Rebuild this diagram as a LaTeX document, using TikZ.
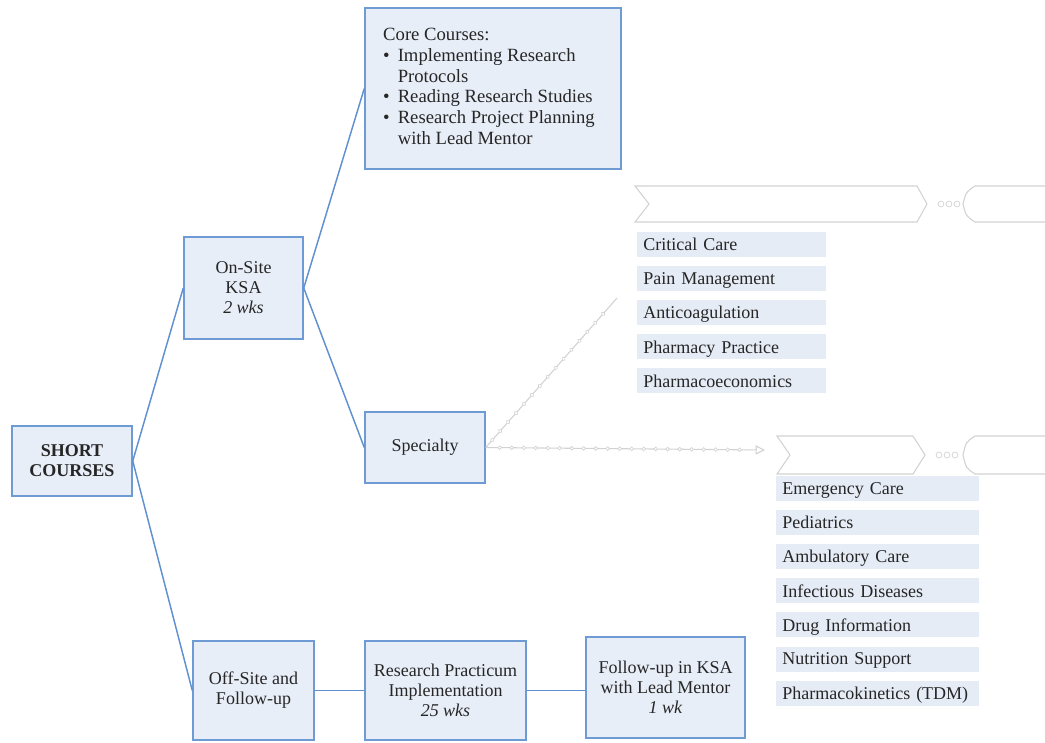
\documentclass[tikz,border=0pt]{standalone}
\usepackage{fontspec}
\setmainfont{Liberation Serif}
\usetikzlibrary{arrows.meta,decorations.markings}
\definecolor{boxfill}{HTML}{E8EEF8}
\definecolor{boxline}{HTML}{6E9BD3}
\definecolor{linkline}{HTML}{6090D0}
\definecolor{listfill}{HTML}{E6ECF6}
\definecolor{ghost}{HTML}{D2D2D2}
\definecolor{txt}{HTML}{262626}
\begin{document}
\begin{tikzpicture}[x=0.75pt,y=-0.75pt,
  box/.style={draw=boxline, line width=1.1pt, fill=boxfill, align=center, inner sep=0pt,
    text=txt, font=\fontsize{13.5}{15}\selectfont},
  listitem/.style={fill=listfill, inner xsep=4.5pt, inner ysep=0pt, anchor=west, align=left,
    text=txt, font=\fontsize{13.5}{15}\selectfont, minimum height=18.75pt, text depth=0pt},
  link/.style={draw=linkline, line width=1.1pt},
  ghostline/.style={draw=ghost, line width=0.8pt},
  ghostdots/.style={ghostline, postaction={decorate}, decoration={markings,
    mark=between positions 0.05 and 0.95 step 9pt with {\draw[ghost, line width=0.5pt, fill=white] (0,0) circle (1.4pt);}}},
]
\useasboundingbox (0,0) rectangle (1045,742);

% main boxes
\node[box, minimum width=90pt, minimum height=52.5pt] (sc) at (72,461) {\textbf{SHORT}\\\textbf{COURSES}};
\node[box, minimum width=89.25pt, minimum height=76.5pt] (on) at (243.5,288) {On-Site\\KSA\\\textit{2 wks}};
\node[box, minimum width=192pt, minimum height=120.75pt, align=left] (core) at (493,88.5) {%
  {\fontsize{14}{15.5}\selectfont\renewcommand{\arraystretch}{1.0}%
  \begin{tabular}{@{}l@{\hspace{6pt}}l@{}}
  \multicolumn{2}{@{}l}{Core Courses:}\\
  \textbullet & Implementing Research\\
   & Protocols\\
  \textbullet & Reading Research Studies\\
  \textbullet & Research Project Planning\\
   & with Lead Mentor
  \end{tabular}}\hspace*{6pt}};
\node[box, minimum width=90pt, minimum height=53.25pt] (spec) at (425,447.5) {Specialty};
\node[box, minimum width=90.75pt, minimum height=74.25pt] (off) at (253.5,690.5) {Off-Site and\\Follow-up};
\node[box, minimum width=120.75pt, minimum height=74.25pt] (prac) at (445.5,690.5) {Research Practicum\\Implementation\\\textit{25 wks}};
\node[box, minimum width=119.25pt, minimum height=75.75pt] (fol) at (665.5,687.5) {Follow-up in KSA\\with Lead Mentor\\\textit{1 wk}};

% connectors
\draw[link] (sc.east) -- (on.west);
\draw[link] (sc.east) -- (off.west);
\draw[link] (on.east) -- (core.west);
\draw[link] (on.east) -- (spec.west);
\draw[link] (off.east) -- (prac.west);
\draw[link] (prac.east) -- (prac.east -| fol.west);

% specialty lists
\foreach \t [count=\i from 0] in {Critical Care, Pain Management, Anticoagulation, Pharmacy Practice, Pharmacoeconomics}
  \node[listitem, text width=132.75pt] (la\i) at (637,244.5+34.1*\i) {\t};
\foreach \t [count=\i from 0] in {Emergency Care, Pediatrics, Ambulatory Care, Infectious Diseases, Drug Information, Nutrition Support, Pharmacokinetics (TDM)}
  \node[listitem, text width=143.25pt] (lb\i) at (776,488.5+34.1*\i) {\t};

% ghost artefacts
\coordinate (g1) at (617,298);
\coordinate (g2) at (765,450);
\draw[ghostdots] (spec.east) -- (g1);
\draw[ghostdots, -{Triangle[open,length=7pt,width=7pt]}] (spec.east) -- (g2);

\draw[ghostline] (635,186) -- (917,186) -- (927,204) -- (917,222) -- (635,222) -- (649,204) -- cycle;
\foreach \x in {941,949,957} \draw[ghost, line width=0.5pt] (\x,204) circle (2.2pt);
\draw[ghostline] (1045,186) -- (975,186) .. controls (966,192) .. (963,204) .. controls (966,216) .. (975,222) -- (1045,222);

\draw[ghostline] (777,436) -- (913,436) -- (925,455) -- (913,474) -- (777,474) -- (790,455) -- cycle;
\foreach \x in {939,947,955} \draw[ghost, line width=0.5pt] (\x,455) circle (2.2pt);
\draw[ghostline] (1045,436) -- (975,436) .. controls (966,442) .. (963,455) .. controls (966,468) .. (975,474) -- (1045,474);
\end{tikzpicture}
\end{document}
